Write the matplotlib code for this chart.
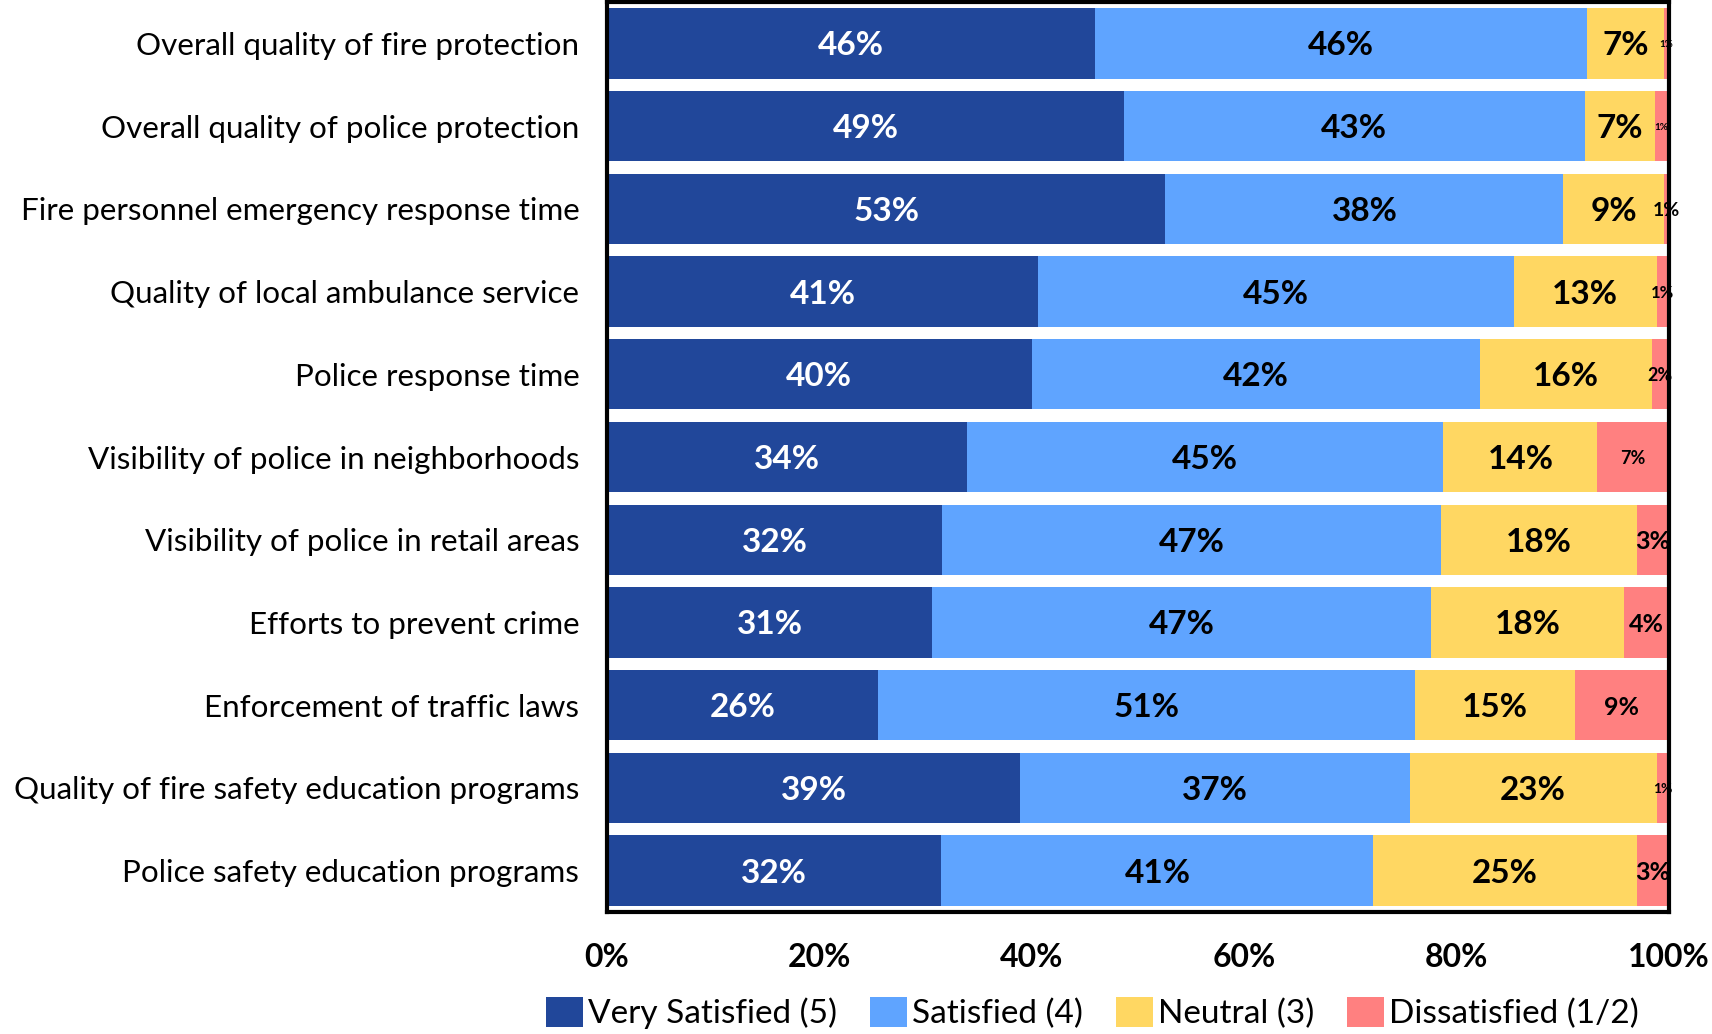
import numpy as np
import matplotlib
matplotlib.use('Agg')
import matplotlib.pyplot as plt

plt.rcParams['font.family'] = ['Lato', 'DejaVu Sans']

# Survey items (top to bottom)
items = [
    'Overall quality of fire protection',
    'Overall quality of police protection',
    'Fire personnel emergency response time',
    'Quality of local ambulance service',
    'Police response time',
    'Visibility of police in neighborhoods',
    'Visibility of police in retail areas',
    'Efforts to prevent crime',
    'Enforcement of traffic laws',
    'Quality of fire safety education programs',
    'Police safety education programs',
]

very_satisfied = [46.0, 48.7, 52.6, 40.6, 40.0, 33.9, 31.6, 30.6, 25.5, 38.9, 31.5]
satisfied = [46.3, 43.4, 37.5, 44.8, 42.2, 44.9, 47.0, 47.0, 50.6, 36.7, 40.7]
neutral = [7.3, 6.6, 9.5, 13.5, 16.2, 14.5, 18.4, 18.2, 15.1, 23.3, 24.8]
dissatisfied = [0.4, 1.3, 0.4, 1.1, 1.6, 6.7, 3.0, 4.2, 8.7, 1.1, 3.0]

very_labels = ['46%', '49%', '53%', '41%', '40%', '34%', '32%', '31%', '26%', '39%', '32%']
sat_labels = ['46%', '43%', '38%', '45%', '42%', '45%', '47%', '47%', '51%', '37%', '41%']
neu_labels = ['7%', '7%', '9%', '13%', '16%', '14%', '18%', '18%', '15%', '23%', '25%']
dis_labels = ['1%', '1%', '1%', '1%', '2%', '7%', '3%', '4%', '9%', '1%', '3%']
dis_sizes = [7, 7, 14, 12, 13, 13, 18, 18, 18, 10, 18]

series = ['Very Satisfied (5)', 'Satisfied (4)', 'Neutral (3)', 'Dissatisfied (1/2)']
colors = ['#21479A', '#5FA4FF', '#FFD762', '#FF8080']

fig = plt.figure(figsize=(17.12, 10.34), dpi=100)
ax = fig.add_axes([0.3546, 0.118, 0.62, 0.88])

y = np.arange(len(items))
data = [very_satisfied, satisfied, neutral, dissatisfied]
labels = [very_labels, sat_labels, neu_labels, dis_labels]
left = np.zeros(len(items))
for k, (vals, col, name) in enumerate(zip(data, colors, series)):
    vals = np.array(vals)
    ax.barh(y, vals, left=left, height=0.85, color=col, label=name)
    for i in range(len(items)):
        cx = left[i] + vals[i] / 2
        size = dis_sizes[i] if k == 3 else 24
        tc = 'white' if k == 0 else 'black'
        ax.text(cx, y[i], labels[k][i], ha='center', va='center_baseline',
                color=tc, fontsize=size, fontweight='bold')
    left += vals

ax.set_xlim(0, 100)
ax.set_ylim(len(items) - 0.5, -0.5)
ax.set_yticks(y)
ax.set_yticklabels(items, fontsize=22.6, va='center_baseline')
ax.set_xticks(np.arange(0, 101, 20))
ax.set_xticklabels([f'{v}%' for v in range(0, 101, 20)], fontsize=23, fontweight='bold')
ax.tick_params(axis='both', length=0)
ax.tick_params(axis='x', pad=22)
ax.tick_params(axis='y', pad=20)
for s in ax.spines.values():
    s.set_linewidth(3)
    s.set_color('black')

fig.legend(*ax.get_legend_handles_labels(), loc='center', bbox_to_anchor=(0.638, 0.02),
           ncol=4, frameon=False, fontsize=24, handlelength=1.1, handleheight=1.0,
           handletextpad=0.15, columnspacing=1.0, borderpad=0.1)

fig.savefig('out.png', dpi=100)
